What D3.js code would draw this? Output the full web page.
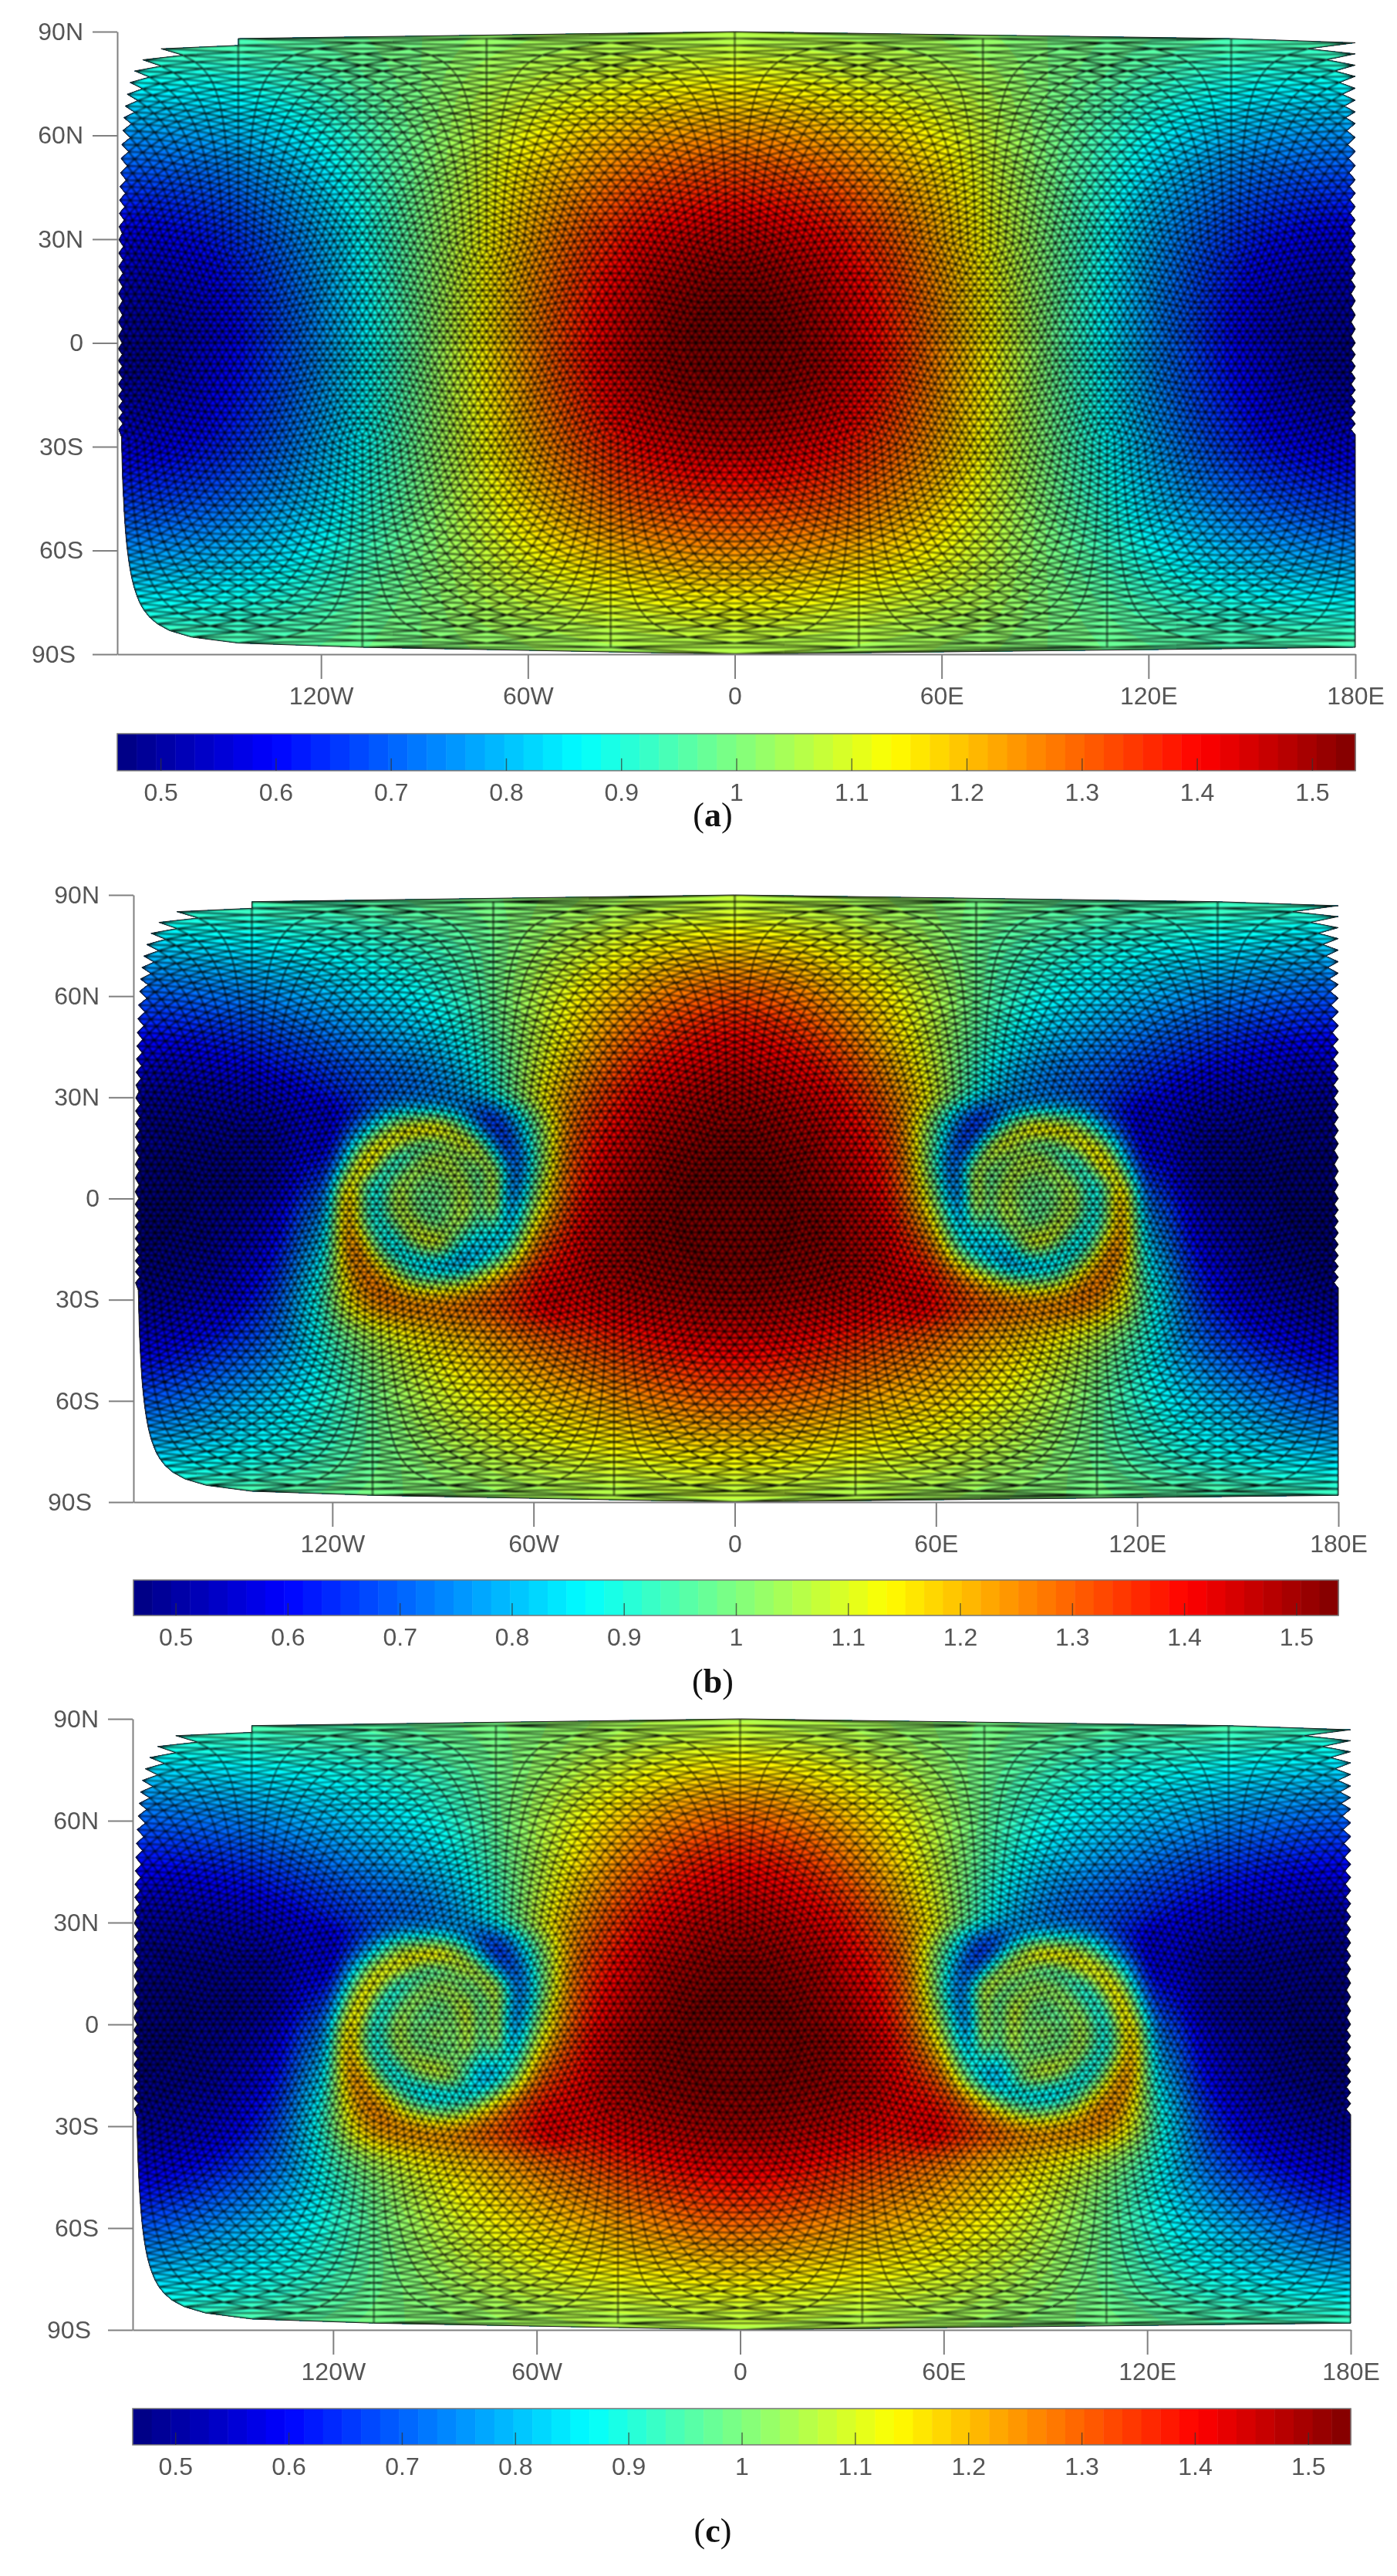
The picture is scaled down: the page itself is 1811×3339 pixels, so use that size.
<!DOCTYPE html>
<html>
<head>
<meta charset="utf-8">
<script src="https://cdn.jsdelivr.net/npm/d3@7"></script>
<style>
  html, body { margin: 0; background: #fff; }
  svg { display: block; filter: blur(0.5px); }
  text { font-family: "Liberation Sans", Arial, sans-serif; }
  .caption { font-family: "Liberation Serif", serif; font-size: 44px; fill: #111; }
  .mesh { filter: blur(0.8px); }
</style>
</head>
<body>
<svg id="chart" width="1811" height="3339"></svg>
<script>
const lonTicks = [-120, -60, 0, 60, 120, 180];
const lonLabels = ["120W", "60W", "0", "60E", "120E", "180E"];
const latTicks = [90, 60, 30, 0, -30, -60, -90];
const latLabels = ["90N", "60N", "30N", "0", "30S", "60S", "90S"];
const colorTicks = [0.5, 0.6, 0.7, 0.8, 0.9, 1, 1.1, 1.2, 1.3, 1.4, 1.5];

// values, west half only (the plots mirror about 0)
const coarseLons = [-180, -165, -150, -135, -120, -105, -90, -75, -60, -45, -30, -15, 0];
const coarseLats = [90, 75, 60, 45, 30, 15, 0, -15, -30, -45, -60, -75, -90];

const fieldA = [
  [.97, .97, .97, .97, .98, .99, 1.0, 1.01, 1.02, 1.03, 1.03, 1.03, 1.04],
  [.87, .87, .88, .90, .93, .97, 1.0, 1.05, 1.07, 1.09, 1.11, 1.13, 1.13],
  [.75, .76, .78, .82, .87, .94, 1.0, 1.07, 1.13, 1.18, 1.22, 1.24, 1.25],
  [.65, .66, .69, .75, .82, .91, 1.0, 1.09, 1.18, 1.25, 1.32, 1.35, 1.36],
  [.57, .58, .62, .69, .78, .89, 1.0, 1.11, 1.22, 1.32, 1.40, 1.45, 1.47],
  [.51, .53, .58, .66, .76, .88, 1.0, 1.12, 1.24, 1.36, 1.46, 1.51, 1.53],
  [.48, .50, .56, .65, .75, .87, 1.0, 1.13, 1.25, 1.38, 1.48, 1.53, 1.55],
  [.51, .53, .58, .66, .76, .88, 1.0, 1.12, 1.24, 1.36, 1.46, 1.51, 1.53],
  [.57, .58, .62, .69, .78, .89, 1.0, 1.11, 1.22, 1.32, 1.40, 1.45, 1.47],
  [.65, .66, .69, .75, .82, .91, 1.0, 1.09, 1.18, 1.25, 1.32, 1.35, 1.36],
  [.75, .76, .78, .82, .87, .94, 1.0, 1.07, 1.13, 1.18, 1.22, 1.24, 1.25],
  [.87, .87, .88, .90, .93, .97, 1.0, 1.05, 1.07, 1.09, 1.11, 1.13, 1.13],
  [.97, .97, .97, .97, .98, .99, 1.0, 1.01, 1.02, 1.03, 1.03, 1.03, 1.04]
];

const fieldB = [
  [.96, .96, .96, .97, .97, .98, .99, 1.0, 1.01, 1.02, 1.03, 1.03, 1.04],
  [.81, .83, .85, .86, .88, .90, .93, .96, 1.03, 1.08, 1.12, 1.16, 1.17],
  [.68, .70, .72, .76, .80, .84, .88, .96, 1.07, 1.15, 1.23, 1.30, 1.33],
  [.58, .58, .62, .66, .70, .75, .80, .92, 1.06, 1.20, 1.33, 1.40, 1.43],
  [.50, .51, .53, .55, .62, .66, .68, .78, 1.12, 1.30, 1.42, 1.47, 1.49],
  [.47, .48, .49, .50, .62, 1.0, .95, .90, 1.10, 1.38, 1.47, 1.51, 1.53],
  [.47, .47, .49, .52, .86, .95, 1.0, 1.0, 1.12, 1.42, 1.50, 1.53, 1.55],
  [.47, .48, .51, .58, .98, 1.15, .9, 1.0, 1.30, 1.46, 1.50, 1.53, 1.54],
  [.50, .52, .56, .68, 1.04, 1.22, 1.26, 1.28, 1.38, 1.45, 1.48, 1.50, 1.51],
  [.57, .60, .66, .74, .90, 1.05, 1.14, 1.20, 1.26, 1.30, 1.35, 1.40, 1.43],
  [.68, .72, .78, .84, .90, 1.0, 1.08, 1.13, 1.18, 1.20, 1.25, 1.28, 1.30],
  [.80, .82, .85, .88, .93, .98, 1.03, 1.07, 1.10, 1.12, 1.13, 1.15, 1.15],
  [.97, .97, .98, .98, .99, 1.0, 1.0, 1.01, 1.02, 1.03, 1.03, 1.04, 1.04]
];

const fieldC = [
  [.96, .96, .97, .97, .97, .98, .99, 1.0, 1.01, 1.02, 1.03, 1.03, 1.04],
  [.82, .84, .85, .87, .88, .90, .93, .97, 1.02, 1.07, 1.11, 1.15, 1.16],
  [.69, .71, .73, .77, .80, .84, .88, .95, 1.06, 1.14, 1.22, 1.28, 1.31],
  [.58, .59, .62, .66, .71, .75, .80, .92, 1.05, 1.19, 1.31, 1.39, 1.42],
  [.50, .51, .53, .55, .62, .66, .68, .80, 1.10, 1.28, 1.40, 1.46, 1.48],
  [.47, .48, .49, .50, .62, 1.0, .95, .90, 1.08, 1.36, 1.46, 1.51, 1.53],
  [.47, .47, .49, .52, .86, .95, 1.0, 1.0, 1.10, 1.40, 1.50, 1.53, 1.55],
  [.47, .48, .51, .58, .98, 1.15, .9, 1.0, 1.28, 1.44, 1.50, 1.53, 1.54],
  [.50, .52, .56, .68, 1.02, 1.20, 1.24, 1.26, 1.36, 1.43, 1.47, 1.49, 1.51],
  [.57, .60, .66, .74, .89, 1.02, 1.12, 1.18, 1.24, 1.28, 1.33, 1.39, 1.42],
  [.68, .72, .78, .84, .90, .99, 1.07, 1.12, 1.17, 1.20, 1.24, 1.27, 1.29],
  [.81, .83, .85, .88, .93, .98, 1.03, 1.07, 1.10, 1.12, 1.13, 1.14, 1.15],
  [.97, .97, .98, .98, .99, 1.0, 1.0, 1.01, 1.02, 1.03, 1.03, 1.04, 1.04]
];

// finer reading around the west vortex
const spiralLons = [-128, -124, -120, -116, -112, -108, -104, -100, -96, -92, -88, -84, -80, -76, -72, -68, -64, -60, -56, -52, -48];
const spiralLats = [32, 28, 24, 20, 16, 12, 8, 4, 0, -4, -8, -12, -16, -20, -24, -28, -32, -36, -40];

const spiralB = [
  [.56, .57, .59, .60, .62, .64, .66, .68, .70, .72, .74, .74, .74, .78, .86, .93, 1.03, 1.12, 1.18, 1.23, 1.28],
  [.54, .55, .56, .60, .62, .66, .70, .74, .74, .74, .72, .70, .68, .66, .72, .84, .93, 1.05, 1.15, 1.20, 1.27],
  [.52, .53, .58, .62, .68, .76, .86, .94, .96, 1.0, 1.0, .90, .78, .66, .62, .72, .85, .98, 1.10, 1.20, 1.28],
  [.52, .54, .58, .66, .76, .90, 1.05, 1.20, 1.26, 1.28, 1.26, 1.18, 1.0, .76, .62, .64, .80, .94, 1.08, 1.18, 1.29],
  [.52, .55, .60, .74, .92, 1.14, 1.24, 1.10, .93, .82, .88, 1.05, 1.24, 1.08, .75, .62, .75, .92, 1.08, 1.20, 1.31],
  [.53, .57, .64, .82, 1.12, 1.26, .98, .80, .92, 1.14, 1.16, 1.02, .90, 1.20, .98, .66, .70, .90, 1.08, 1.20, 1.32],
  [.55, .60, .70, .98, 1.28, 1.05, .80, .96, 1.14, 1.02, 1.0, 1.14, 1.02, .86, 1.24, .76, .68, .92, 1.10, 1.22, 1.32],
  [.57, .62, .76, 1.26, 1.05, .80, .92, 1.14, .98, .98, .98, 1.0, 1.14, .84, 1.24, .70, .72, .98, 1.14, 1.24, 1.33],
  [.58, .66, .86, 1.28, 1.10, .80, .95, 1.14, .97, .98, .99, 1.0, 1.16, .86, 1.24, .70, .78, 1.02, 1.16, 1.25, 1.34],
  [.60, .68, .90, 1.30, 1.08, .81, .95, 1.14, 1.0, .95, .96, 1.02, 1.14, .88, 1.16, .72, .85, 1.08, 1.20, 1.28, 1.36],
  [.62, .72, .94, 1.30, 1.12, .84, .86, 1.05, 1.16, .98, .94, 1.10, 1.02, .84, 1.0, .74, .92, 1.14, 1.25, 1.32, 1.38],
  [.64, .76, .96, 1.28, 1.22, .98, .80, .88, 1.10, 1.19, 1.18, 1.0, .84, .88, .80, .82, 1.02, 1.22, 1.30, 1.36, 1.40],
  [.67, .78, .98, 1.25, 1.30, 1.12, .90, .80, .86, 1.0, 1.02, .88, .80, .78, .80, .94, 1.12, 1.28, 1.34, 1.38, 1.42],
  [.70, .82, 1.0, 1.20, 1.28, 1.24, 1.10, .94, .80, .76, .74, .72, .76, .88, 1.02, 1.14, 1.26, 1.34, 1.38, 1.41, 1.44],
  [.74, .85, 1.0, 1.16, 1.26, 1.28, 1.24, 1.12, 1.0, .96, .96, .98, 1.04, 1.14, 1.22, 1.28, 1.33, 1.37, 1.40, 1.43, 1.45],
  [.78, .88, 1.02, 1.14, 1.22, 1.27, 1.28, 1.25, 1.2, 1.18, 1.18, 1.2, 1.23, 1.26, 1.29, 1.32, 1.35, 1.39, 1.42, 1.44, 1.46],
  [.80, .88, 1.0, 1.10, 1.18, 1.23, 1.26, 1.27, 1.27, 1.27, 1.27, 1.28, 1.29, 1.30, 1.32, 1.34, 1.37, 1.40, 1.43, 1.45, 1.46],
  [.80, .86, .96, 1.06, 1.12, 1.17, 1.20, 1.22, 1.23, 1.24, 1.25, 1.26, 1.27, 1.28, 1.30, 1.32, 1.35, 1.38, 1.41, 1.43, 1.45],
  [.80, .84, .92, 1.0, 1.06, 1.10, 1.13, 1.16, 1.18, 1.20, 1.21, 1.22, 1.23, 1.25, 1.27, 1.29, 1.32, 1.34, 1.35, 1.37, 1.40]
];

const spiralC = [
  [.56, .57, .58, .60, .62, .64, .66, .68, .70, .72, .74, .76, .76, .80, .86, .94, 1.04, 1.12, 1.17, 1.22, 1.27],
  [.54, .55, .56, .60, .63, .66, .70, .74, .75, .76, .75, .72, .68, .68, .74, .84, .94, 1.05, 1.14, 1.19, 1.26],
  [.52, .53, .58, .62, .68, .76, .86, .94, .97, 1.0, 1.0, .92, .80, .68, .63, .72, .86, .98, 1.09, 1.19, 1.27],
  [.52, .54, .58, .66, .76, .90, 1.04, 1.18, 1.24, 1.26, 1.26, 1.18, 1.02, .78, .63, .65, .80, .94, 1.07, 1.17, 1.28],
  [.52, .55, .60, .74, .92, 1.12, 1.22, 1.14, .96, .84, .85, 1.0, 1.20, 1.08, .78, .64, .74, .92, 1.07, 1.19, 1.30],
  [.53, .57, .64, .82, 1.08, 1.24, 1.0, .81, .90, 1.06, 1.12, 1.0, .85, 1.14, 1.16, .74, .70, .90, 1.07, 1.19, 1.31],
  [.55, .60, .70, .96, 1.24, 1.06, .80, .92, 1.12, 1.04, .98, 1.10, 1.08, .84, 1.22, .80, .70, .92, 1.09, 1.21, 1.31],
  [.57, .62, .76, 1.08, 1.24, .88, .84, 1.10, 1.0, .92, .96, 1.0, 1.18, .84, 1.20, .72, .74, .98, 1.13, 1.23, 1.32],
  [.58, .66, .86, 1.22, 1.14, .80, .96, 1.14, .93, 1.02, 1.04, .96, 1.18, .84, 1.22, .70, .80, 1.02, 1.15, 1.24, 1.33],
  [.60, .68, .90, 1.26, 1.08, .81, .98, 1.12, .92, 1.04, 1.06, .94, 1.16, .86, 1.18, .72, .86, 1.08, 1.19, 1.27, 1.35],
  [.62, .72, .94, 1.27, 1.10, .82, .92, 1.12, 1.02, .94, .94, 1.0, 1.12, .84, 1.06, .76, .93, 1.14, 1.24, 1.31, 1.37],
  [.64, .76, .96, 1.26, 1.20, .96, .80, .96, 1.14, 1.14, 1.08, 1.0, .90, .82, .84, .84, 1.02, 1.22, 1.29, 1.35, 1.39],
  [.67, .78, .98, 1.22, 1.28, 1.10, .88, .80, .92, 1.04, 1.12, 1.08, .92, .76, .78, .94, 1.12, 1.28, 1.33, 1.37, 1.41],
  [.70, .82, 1.0, 1.18, 1.26, 1.22, 1.08, .92, .80, .78, .80, .82, .78, .84, 1.0, 1.14, 1.26, 1.33, 1.37, 1.40, 1.43],
  [.74, .85, 1.0, 1.14, 1.24, 1.27, 1.22, 1.10, .98, .90, .88, .90, .98, 1.10, 1.20, 1.28, 1.33, 1.37, 1.39, 1.42, 1.44],
  [.78, .88, 1.0, 1.12, 1.20, 1.25, 1.26, 1.22, 1.18, 1.14, 1.12, 1.14, 1.19, 1.24, 1.28, 1.32, 1.35, 1.39, 1.42, 1.44, 1.45],
  [.80, .88, .98, 1.08, 1.16, 1.21, 1.24, 1.25, 1.25, 1.25, 1.25, 1.26, 1.28, 1.30, 1.32, 1.34, 1.37, 1.40, 1.43, 1.44, 1.45],
  [.80, .86, .94, 1.03, 1.10, 1.15, 1.18, 1.20, 1.21, 1.22, 1.23, 1.24, 1.26, 1.28, 1.30, 1.32, 1.35, 1.38, 1.40, 1.42, 1.44],
  [.80, .84, .90, .98, 1.04, 1.08, 1.11, 1.14, 1.16, 1.18, 1.19, 1.21, 1.22, 1.24, 1.27, 1.29, 1.32, 1.33, 1.34, 1.36, 1.39]
];

const colorMin = 0.4624, colorMax = 1.5376, colorLevels = 64;
const jet = d3.scaleLinear()
  .domain([0, 0.125, 0.375, 0.625, 0.875, 1])
  .range(["#00007f", "#0000ff", "#00ffff", "#ffff00", "#ff0000", "#7f0000"]);
const levelStep = (colorMax - colorMin) / colorLevels;
const levels = d3.range(colorLevels).map(i => colorMin + i * levelStep);
const levelColor = i => jet((i + 0.5) / colorLevels);

const svg = d3.select("#chart");

// bilinear lookup in one of the tables above, only used to paint the field
function lookup(table, lons, lats, lon, lat) {
  const fi = Math.min(d3.bisectRight(lons, lon) - 1, lons.length - 2);
  let fj = 0;
  while (fj < lats.length - 2 && lats[fj + 1] >= lat) fj++;
  const tx = (lon - lons[fi]) / (lons[fi + 1] - lons[fi]);
  const ty = (lats[fj] - lat) / (lats[fj] - lats[fj + 1]);
  const top = table[fj][fi] * (1 - tx) + table[fj][fi + 1] * tx;
  const bot = table[fj + 1][fi] * (1 - tx) + table[fj + 1][fi + 1] * tx;
  return top * (1 - ty) + bot * ty;
}

const gridW = 361, gridH = 181;

function buildGrid(coarse, spiral) {
  const data = new Float64Array(gridW * gridH);
  for (let j = 0; j < gridH; j++) {
    for (let i = 0; i < gridW; i++) {
      data[j * gridW + i] = lookup(coarse, coarseLons, coarseLats, -Math.abs(-180 + i), 90 - j);
    }
  }
  d3.blur2({data, width: gridW, height: gridH}, 5);
  if (spiral) {
    for (let j = 0; j < gridH; j++) {
      const lat = 90 - j;
      if (lat > 32 || lat < -40) continue;
      for (let i = 0; i < gridW; i++) {
        const lon = -Math.abs(-180 + i);
        if (lon < -128 || lon > -48) continue;
        const edge = Math.min(lon + 128, -48 - lon, 32 - lat, lat + 40);
        const w = Math.min(edge / 6, 1);
        const v = lookup(spiral, spiralLons, spiralLats, lon, lat);
        data[j * gridW + i] = data[j * gridW + i] * (1 - w) + v * w;
      }
    }
    d3.blur2({data, width: gridW, height: gridH}, 1.5);
  }
  return data;
}

// icosahedral mesh, 5 bisections
function buildMesh() {
  const atan = Math.atan(0.5);
  const vec = (lon, lat) => {
    const a = lon * Math.PI / 180, b = lat;
    return [Math.cos(b) * Math.cos(a), Math.cos(b) * Math.sin(a), Math.sin(b)];
  };
  const N = [0, 0, 1], S = [0, 0, -1];
  const U = d3.range(5).map(i => vec(72 * i, atan));
  const L = d3.range(5).map(i => vec(72 * i + 36, -atan));
  let tris = [];
  for (let i = 0; i < 5; i++) {
    const k = (i + 1) % 5;
    tris.push([N, U[i], U[k]], [U[i], L[i], U[k]], [L[i], L[k], U[k]], [S, L[k], L[i]]);
  }
  const mid = (p, q) => {
    const m = [p[0] + q[0], p[1] + q[1], p[2] + q[2]];
    const r = Math.hypot(m[0], m[1], m[2]);
    return [m[0] / r, m[1] / r, m[2] / r];
  };
  for (let level = 0; level < 5; level++) {
    const next = [];
    for (const [a, b, c] of tris) {
      const ab = mid(a, b), bc = mid(b, c), ca = mid(c, a);
      next.push([a, ab, ca], [ab, b, bc], [ca, bc, c], [ab, bc, ca]);
    }
    tris = next;
  }
  const toLonLat = p => {
    const polar = Math.hypot(p[0], p[1]) < 1e-9;
    let lon = polar ? 0 : Math.atan2(p[1], p[0]) * 180 / Math.PI;
    if (lon < -179.999) lon = 180;
    return [lon, Math.asin(p[2]) * 180 / Math.PI];
  };
  const kept = [];
  const edges = new Map();
  for (const t of tris) {
    const pts = t.map(toLonLat);
    const lons = pts.map(d => d[0]);
    if (d3.max(lons) - d3.min(lons) > 180) continue;
    kept.push(pts);
    for (let i = 0; i < 3; i++) {
      const a = pts[i], b = pts[(i + 1) % 3];
      const ka = a[0].toFixed(3) + "," + a[1].toFixed(3);
      const kb = b[0].toFixed(3) + "," + b[1].toFixed(3);
      const key = ka < kb ? ka + "|" + kb : kb + "|" + ka;
      if (!edges.has(key)) edges.set(key, {a, b, uses: 0});
      edges.get(key).uses++;
    }
  }
  return {triangles: kept, edges: Array.from(edges.values())};
}

const mesh = buildMesh();

function drawPanel(p, idx) {
  const x = d3.scaleLinear().domain([-180, 180]).range([p.lon180w, p.lon180e]);
  const y = d3.scaleLinear().domain([90, -90]).range([p.top, p.bottom]);
  const root = svg.append("g");

  const fmt = d => d.toFixed(1);
  const segment = e => "M" + fmt(x(e.a[0])) + "," + fmt(y(e.a[1])) + "L" + fmt(x(e.b[0])) + "," + fmt(y(e.b[1]));
  const triPath = mesh.triangles.map(t =>
    "M" + t.map(d => fmt(x(d[0])) + "," + fmt(y(d[1]))).join("L") + "Z").join("");

  root.append("clipPath").attr("id", "shape" + idx).append("path").attr("d", triPath);

  const map = root.append("g").attr("clip-path", "url(#shape" + idx + ")");
  const grid = buildGrid(p.coarse, p.spiral);
  const contours = d3.contours().size([gridW, gridH]).smooth(true).thresholds(levels)(grid);
  const path = d3.geoPath(d3.geoTransform({
    point(cx, cy) { this.stream.point(x(-180 + cx - 0.5), y(90 - (cy - 0.5))); }
  }));
  map.append("rect")
    .attr("x", p.lon180w).attr("y", p.top)
    .attr("width", p.lon180e - p.lon180w).attr("height", p.bottom - p.top)
    .attr("fill", levelColor(0));
  map.selectAll("path.band").data(contours).enter().append("path")
    .attr("class", "band")
    .attr("d", path)
    .attr("fill", (d, i) => levelColor(i));

  map.append("path")
    .attr("class", "mesh")
    .attr("d", mesh.edges.map(segment).join(""))
    .attr("fill", "none")
    .attr("stroke", "#000")
    .attr("stroke-linecap", "round")
    .attr("stroke-width", p.meshWidth);

  // outline of the mesh stays thin and sharp
  root.append("path")
    .attr("d", mesh.edges.filter(e => e.uses === 1).map(segment).join(""))
    .attr("fill", "none")
    .attr("stroke", "#222")
    .attr("stroke-width", 1);

  // axes
  const xAxisScale = d3.scaleLinear().domain([x.invert(p.left), 180]).range([p.left, p.lon180e]);
  const xAxis = root.append("g")
    .attr("transform", "translate(0," + p.bottom + ")")
    .call(d3.axisBottom(xAxisScale).tickValues(lonTicks).tickSize(32).tickSizeOuter(0).tickPadding(10)
      .tickFormat((d, i) => lonLabels[i]));
  const yAxis = root.append("g")
    .attr("transform", "translate(" + p.left + ",0)")
    .call(d3.axisLeft(y).tickValues(latTicks).tickSize(32).tickSizeOuter(0).tickPadding(12)
      .tickFormat((d, i) => latLabels[i]));
  yAxis.selectAll(".tick text").filter(d => d === -90).attr("x", -54);

  // colorbar
  const c = d3.scaleLinear().domain([colorMin, colorMax]).range([p.left, p.lon180e]);
  const bar = root.append("g");
  bar.selectAll("rect").data(levels).enter().append("rect")
    .attr("x", d => c(d))
    .attr("y", p.barTop)
    .attr("width", c(colorMin + levelStep) - c(colorMin) + 0.5)
    .attr("height", p.barBottom - p.barTop)
    .attr("fill", (d, i) => levelColor(i));
  bar.append("rect")
    .attr("x", p.left).attr("y", p.barTop)
    .attr("width", p.lon180e - p.left).attr("height", p.barBottom - p.barTop)
    .attr("fill", "none").attr("stroke", "#777").attr("stroke-width", 1.5);
  const cAxis = root.append("g")
    .attr("transform", "translate(0," + p.barBottom + ")")
    .call(d3.axisBottom(c).tickValues(colorTicks).tickSizeInner(-16).tickSizeOuter(0).tickPadding(16)
      .tickFormat(d => d === 1 ? "1" : d.toFixed(1)));
  cAxis.select(".domain").remove();
  cAxis.selectAll(".tick line").attr("stroke", "#333").attr("stroke-opacity", 0.7).attr("stroke-width", 1.5);

  [xAxis, yAxis].forEach(g => {
    g.selectAll(".domain, .tick line").attr("stroke", "#808080").attr("stroke-width", 2);
  });
  [xAxis, yAxis, cAxis].forEach(g => {
    g.selectAll(".tick text").attr("fill", "#555").attr("font-size", 32)
      .attr("font-family", "'Liberation Sans', Arial, sans-serif");
  });

  const cap = root.append("text").attr("class", "caption")
    .attr("x", p.captionX).attr("y", p.captionY).attr("text-anchor", "middle");
  cap.append("tspan").text("(");
  cap.append("tspan").attr("font-weight", "bold").text(p.letter);
  cap.append("tspan").text(")");
}

drawPanel({letter: "a", coarse: fieldA, spiral: null, lon180w: 148, lon180e: 1757, left: 152, top: 41, bottom: 848,
  barTop: 951, barBottom: 999, captionX: 924, captionY: 1071, meshWidth: 1.35}, 0);
drawPanel({letter: "b", coarse: fieldB, spiral: spiralB, lon180w: 170, lon180e: 1735, left: 173, top: 1160, bottom: 1947,
  barTop: 2048, barBottom: 2094, captionX: 924, captionY: 2194, meshWidth: 1.45}, 1);
drawPanel({letter: "c", coarse: fieldC, spiral: spiralC, lon180w: 168, lon180e: 1751, left: 172, top: 2228, bottom: 3020,
  barTop: 3122, barBottom: 3169, captionX: 924, captionY: 3295, meshWidth: 1.25}, 2);
</script>
</body>
</html>
